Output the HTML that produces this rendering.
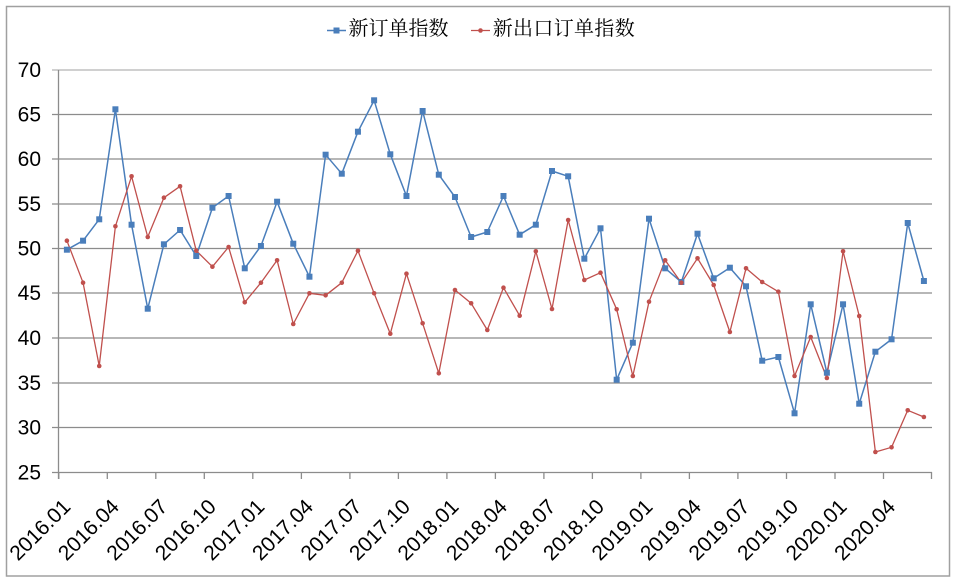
<!DOCTYPE html>
<html>
<head>
<meta charset="utf-8">
<style>
html,body{margin:0;padding:0;background:#fff;}
svg{display:block;}
text{font-family:"Liberation Sans","Noto Sans CJK SC",sans-serif;fill:#000;}
.cjk{font-family:"Liberation Sans","Noto Serif CJK SC","Noto Sans CJK SC",sans-serif;}
</style>
</head>
<body>
<svg width="955" height="581" viewBox="0 0 955 581" xmlns="http://www.w3.org/2000/svg">
<rect x="0" y="0" width="955" height="581" fill="#fff"/>
<rect x="6.5" y="6.5" width="943" height="569.5" fill="none" stroke="#a0a0a0" stroke-width="1.5"/>

<!-- gridlines -->
<g stroke="#8c8c8c" stroke-width="1.3">
<line x1="52" y1="70" x2="932" y2="70" stroke="#b4b4b4"/>
<line x1="52" y1="114.5" x2="932" y2="114.5"/>
<line x1="52" y1="159" x2="932" y2="159"/>
<line x1="52" y1="204" x2="932" y2="204"/>
<line x1="52" y1="248.5" x2="932" y2="248.5"/>
<line x1="52" y1="293" x2="932" y2="293"/>
<line x1="52" y1="338" x2="932" y2="338"/>
<line x1="52" y1="383" x2="932" y2="383"/>
<line x1="52" y1="427.5" x2="932" y2="427.5"/>
<line x1="52" y1="472.5" x2="932" y2="472.5"/>
<line x1="58.5" y1="70" x2="58.5" y2="479"/>
</g>
<!-- x ticks -->
<g stroke="#8c8c8c" stroke-width="1.3">
<line x1="58.8" y1="472" x2="58.8" y2="479"/>
<line x1="107.3" y1="472" x2="107.3" y2="479"/>
<line x1="155.8" y1="472" x2="155.8" y2="479"/>
<line x1="204.3" y1="472" x2="204.3" y2="479"/>
<line x1="252.8" y1="472" x2="252.8" y2="479"/>
<line x1="301.4" y1="472" x2="301.4" y2="479"/>
<line x1="349.9" y1="472" x2="349.9" y2="479"/>
<line x1="398.4" y1="472" x2="398.4" y2="479"/>
<line x1="446.9" y1="472" x2="446.9" y2="479"/>
<line x1="495.4" y1="472" x2="495.4" y2="479"/>
<line x1="543.9" y1="472" x2="543.9" y2="479"/>
<line x1="592.4" y1="472" x2="592.4" y2="479"/>
<line x1="640.9" y1="472" x2="640.9" y2="479"/>
<line x1="689.4" y1="472" x2="689.4" y2="479"/>
<line x1="737.9" y1="472" x2="737.9" y2="479"/>
<line x1="786.5" y1="472" x2="786.5" y2="479"/>
<line x1="835.0" y1="472" x2="835.0" y2="479"/>
<line x1="883.5" y1="472" x2="883.5" y2="479"/>
<line x1="931.5" y1="472" x2="931.5" y2="479"/>
</g>

<!-- y labels -->
<g font-size="21" text-anchor="end">
<text x="41" y="77">70</text>
<text x="41" y="121.5">65</text>
<text x="41" y="166">60</text>
<text x="41" y="211">55</text>
<text x="41" y="255.5">50</text>
<text x="41" y="300">45</text>
<text x="41" y="345">40</text>
<text x="41" y="390">35</text>
<text x="41" y="434.5">30</text>
<text x="41" y="479.5">25</text>
</g>

<!-- x labels -->
<g font-size="21" text-anchor="end">
<text transform="translate(71.8,508) rotate(-45)">2016.01</text>
<text transform="translate(120.3,508) rotate(-45)">2016.04</text>
<text transform="translate(168.8,508) rotate(-45)">2016.07</text>
<text transform="translate(217.3,508) rotate(-45)">2016.10</text>
<text transform="translate(265.8,508) rotate(-45)">2017.01</text>
<text transform="translate(314.4,508) rotate(-45)">2017.04</text>
<text transform="translate(362.9,508) rotate(-45)">2017.07</text>
<text transform="translate(411.4,508) rotate(-45)">2017.10</text>
<text transform="translate(459.9,508) rotate(-45)">2018.01</text>
<text transform="translate(508.4,508) rotate(-45)">2018.04</text>
<text transform="translate(556.9,508) rotate(-45)">2018.07</text>
<text transform="translate(605.4,508) rotate(-45)">2018.10</text>
<text transform="translate(653.9,508) rotate(-45)">2019.01</text>
<text transform="translate(702.4,508) rotate(-45)">2019.04</text>
<text transform="translate(750.9,508) rotate(-45)">2019.07</text>
<text transform="translate(799.5,508) rotate(-45)">2019.10</text>
<text transform="translate(848.0,508) rotate(-45)">2020.01</text>
<text transform="translate(896.5,508) rotate(-45)">2020.04</text>
</g>

<!-- blue series -->
<polyline fill="none" stroke="#4a7ebb" stroke-width="1.5" stroke-linejoin="round" points="66.89,249.7 83.06,240.7 99.23,219.3 115.40,109.3 131.57,224.7 147.74,308.7 163.91,244.3 180.08,230 196.25,256 212.42,207.7 228.59,196 244.76,268.3 260.93,246 277.10,201.7 293.27,243.7 309.44,276.7 325.61,154.7 341.78,173.7 357.95,131.7 374.12,100.3 390.29,154.3 406.46,196 422.63,111 438.80,174.7 454.97,197 471.14,237 487.31,232 503.48,196 519.65,234.7 535.82,224.7 551.99,171 568.16,176.3 584.33,258.7 600.50,228.3 616.67,379.7 632.84,342.7 649.01,218.7 665.18,268.3 681.35,282 697.52,233.7 713.69,278.3 729.86,267.7 746.03,286.3 762.20,360.7 778.37,357 794.54,413.3 810.71,304.3 826.88,372.7 843.05,304.3 859.22,403.7 875.39,351.7 891.56,339.3 907.73,223 923.90,281"/>

<!-- red series -->
<polyline fill="none" stroke="#c0504d" stroke-width="1.3" stroke-linejoin="round" points="66.89,240.7 83.06,282.7 99.23,366 115.40,226.3 131.57,176.3 147.74,237 163.91,197.7 180.08,186.3 196.25,250.7 212.42,266.7 228.59,247 244.76,302.3 260.93,282.7 277.10,260.3 293.27,324 309.44,293.3 325.61,295.3 341.78,282.7 357.95,250.7 374.12,293.3 390.29,333.7 406.46,273.7 422.63,323.3 438.80,373.3 454.97,290 471.14,303.3 487.31,330 503.48,287.7 519.65,315.7 535.82,251.3 551.99,309 568.16,220 584.33,280 600.50,272.7 616.67,309.3 632.84,376 649.01,301.7 665.18,260.3 681.35,282.7 697.52,258.3 713.69,285 729.86,332 746.03,268.3 762.20,282 778.37,291.7 794.54,376 810.71,337 826.88,378 843.05,251.3 859.22,316 875.39,452 891.56,447.3 907.73,410.3 923.90,417"/>

<!-- blue markers -->
<g fill="#4a7ebb">
<rect x="63.89" y="246.7" width="6" height="6"/><rect x="80.06" y="237.7" width="6" height="6"/><rect x="96.23" y="216.3" width="6" height="6"/><rect x="112.40" y="106.3" width="6" height="6"/><rect x="128.57" y="221.7" width="6" height="6"/><rect x="144.74" y="305.7" width="6" height="6"/><rect x="160.91" y="241.3" width="6" height="6"/><rect x="177.08" y="227" width="6" height="6"/><rect x="193.25" y="253" width="6" height="6"/><rect x="209.42" y="204.7" width="6" height="6"/><rect x="225.59" y="193" width="6" height="6"/><rect x="241.76" y="265.3" width="6" height="6"/><rect x="257.93" y="243" width="6" height="6"/><rect x="274.10" y="198.7" width="6" height="6"/><rect x="290.27" y="240.7" width="6" height="6"/><rect x="306.44" y="273.7" width="6" height="6"/><rect x="322.61" y="151.7" width="6" height="6"/><rect x="338.78" y="170.7" width="6" height="6"/><rect x="354.95" y="128.7" width="6" height="6"/><rect x="371.12" y="97.3" width="6" height="6"/><rect x="387.29" y="151.3" width="6" height="6"/><rect x="403.46" y="193" width="6" height="6"/><rect x="419.63" y="108" width="6" height="6"/><rect x="435.80" y="171.7" width="6" height="6"/><rect x="451.97" y="194" width="6" height="6"/><rect x="468.14" y="234" width="6" height="6"/><rect x="484.31" y="229" width="6" height="6"/><rect x="500.48" y="193" width="6" height="6"/><rect x="516.65" y="231.7" width="6" height="6"/><rect x="532.82" y="221.7" width="6" height="6"/><rect x="548.99" y="168" width="6" height="6"/><rect x="565.16" y="173.3" width="6" height="6"/><rect x="581.33" y="255.7" width="6" height="6"/><rect x="597.50" y="225.3" width="6" height="6"/><rect x="613.67" y="376.7" width="6" height="6"/><rect x="629.84" y="339.7" width="6" height="6"/><rect x="646.01" y="215.7" width="6" height="6"/><rect x="662.18" y="265.3" width="6" height="6"/><rect x="678.35" y="279" width="6" height="6"/><rect x="694.52" y="230.7" width="6" height="6"/><rect x="710.69" y="275.3" width="6" height="6"/><rect x="726.86" y="264.7" width="6" height="6"/><rect x="743.03" y="283.3" width="6" height="6"/><rect x="759.20" y="357.7" width="6" height="6"/><rect x="775.37" y="354" width="6" height="6"/><rect x="791.54" y="410.3" width="6" height="6"/><rect x="807.71" y="301.3" width="6" height="6"/><rect x="823.88" y="369.7" width="6" height="6"/><rect x="840.05" y="301.3" width="6" height="6"/><rect x="856.22" y="400.7" width="6" height="6"/><rect x="872.39" y="348.7" width="6" height="6"/><rect x="888.56" y="336.3" width="6" height="6"/><rect x="904.73" y="220" width="6" height="6"/><rect x="920.90" y="278" width="6" height="6"/>
</g>

<!-- red markers -->
<g fill="#c0504d">
<circle cx="66.89" cy="240.7" r="2.3"/><circle cx="83.06" cy="282.7" r="2.3"/><circle cx="99.23" cy="366" r="2.3"/><circle cx="115.40" cy="226.3" r="2.3"/><circle cx="131.57" cy="176.3" r="2.3"/><circle cx="147.74" cy="237" r="2.3"/><circle cx="163.91" cy="197.7" r="2.3"/><circle cx="180.08" cy="186.3" r="2.3"/><circle cx="196.25" cy="250.7" r="2.3"/><circle cx="212.42" cy="266.7" r="2.3"/><circle cx="228.59" cy="247" r="2.3"/><circle cx="244.76" cy="302.3" r="2.3"/><circle cx="260.93" cy="282.7" r="2.3"/><circle cx="277.10" cy="260.3" r="2.3"/><circle cx="293.27" cy="324" r="2.3"/><circle cx="309.44" cy="293.3" r="2.3"/><circle cx="325.61" cy="295.3" r="2.3"/><circle cx="341.78" cy="282.7" r="2.3"/><circle cx="357.95" cy="250.7" r="2.3"/><circle cx="374.12" cy="293.3" r="2.3"/><circle cx="390.29" cy="333.7" r="2.3"/><circle cx="406.46" cy="273.7" r="2.3"/><circle cx="422.63" cy="323.3" r="2.3"/><circle cx="438.80" cy="373.3" r="2.3"/><circle cx="454.97" cy="290" r="2.3"/><circle cx="471.14" cy="303.3" r="2.3"/><circle cx="487.31" cy="330" r="2.3"/><circle cx="503.48" cy="287.7" r="2.3"/><circle cx="519.65" cy="315.7" r="2.3"/><circle cx="535.82" cy="251.3" r="2.3"/><circle cx="551.99" cy="309" r="2.3"/><circle cx="568.16" cy="220" r="2.3"/><circle cx="584.33" cy="280" r="2.3"/><circle cx="600.50" cy="272.7" r="2.3"/><circle cx="616.67" cy="309.3" r="2.3"/><circle cx="632.84" cy="376" r="2.3"/><circle cx="649.01" cy="301.7" r="2.3"/><circle cx="665.18" cy="260.3" r="2.3"/><circle cx="681.35" cy="282.7" r="2.3"/><circle cx="697.52" cy="258.3" r="2.3"/><circle cx="713.69" cy="285" r="2.3"/><circle cx="729.86" cy="332" r="2.3"/><circle cx="746.03" cy="268.3" r="2.3"/><circle cx="762.20" cy="282" r="2.3"/><circle cx="778.37" cy="291.7" r="2.3"/><circle cx="794.54" cy="376" r="2.3"/><circle cx="810.71" cy="337" r="2.3"/><circle cx="826.88" cy="378" r="2.3"/><circle cx="843.05" cy="251.3" r="2.3"/><circle cx="859.22" cy="316" r="2.3"/><circle cx="875.39" cy="452" r="2.3"/><circle cx="891.56" cy="447.3" r="2.3"/><circle cx="907.73" cy="410.3" r="2.3"/><circle cx="923.90" cy="417" r="2.3"/>
</g>

<!-- legend -->
<line x1="327" y1="30.5" x2="346" y2="30.5" stroke="#4a7ebb" stroke-width="1.5"/>
<rect x="333.5" y="27.5" width="6" height="6" fill="#4a7ebb"/>
<text class="cjk" x="348.5" y="35" font-size="20">新订单指数</text>
<line x1="471" y1="30.5" x2="490" y2="30.5" stroke="#c0504d" stroke-width="1.3"/>
<circle cx="480.5" cy="30.5" r="2.3" fill="#c0504d"/>
<text class="cjk" x="492.7" y="35" font-size="20" textLength="142">新出口订单指数</text>
</svg>
</body>
</html>
